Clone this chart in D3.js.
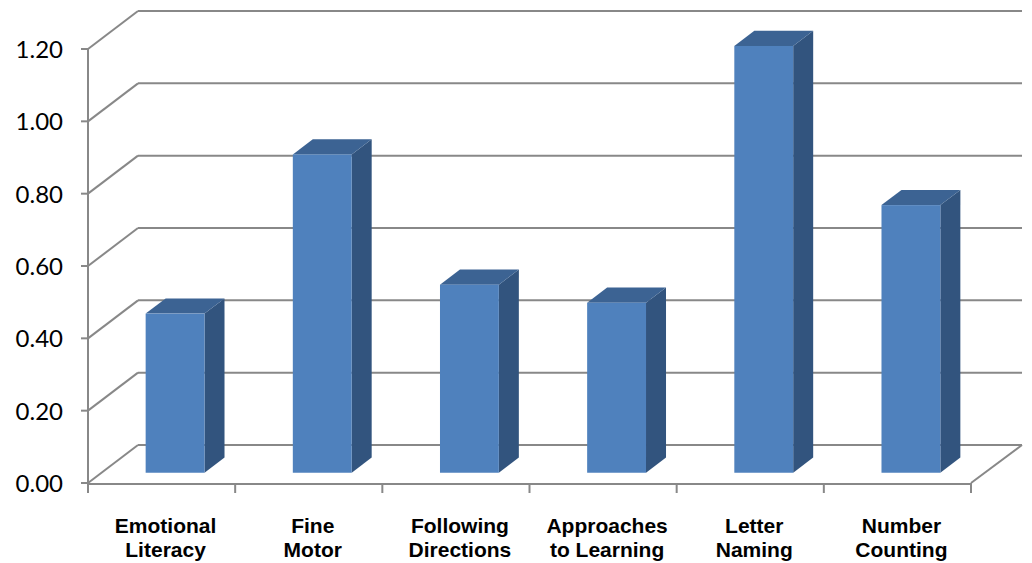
<!DOCTYPE html>
<html>
<head>
<meta charset="utf-8">
<script src="https://cdn.jsdelivr.net/npm/d3@7"></script>
<style>
  body { margin: 0; background: #fff; }
  svg { display: block; }
</style>
</head>
<body>
<svg id="chart" width="1032" height="563"></svg>
<script>
const categories = [
  ["Emotional", "Literacy"],
  ["Fine", "Motor"],
  ["Following", "Directions"],
  ["Approaches", "to Learning"],
  ["Letter", "Naming"],
  ["Number", "Counting"]
];
const values = [0.44, 0.88, 0.52, 0.47, 1.18, 0.74];
const yTicks = [0, 0.2, 0.4, 0.6, 0.8, 1.0, 1.2];

const svg = d3.select("#chart");
const gridColor = "#888888";

// front plane scales + oblique depth vector
const x = d3.scaleBand().domain(d3.range(categories.length)).range([88, 971]);
const y = d3.scaleLinear().domain([0, 1.2]).range([483, 49]);
const depth = { dx: 50, dy: -38 };
const barFront = 0.27, barBack = 0.67, barWidth = 0.4;

const grid = svg.append("g").attr("fill", "none").attr("stroke", gridColor).attr("stroke-width", 2);

// back wall gridlines + left wall diagonals
yTicks.forEach(v => {
  grid.append("line")
    .attr("x1", x.range()[0] + depth.dx).attr("y1", y(v) + depth.dy)
    .attr("x2", x.range()[1] + depth.dx + 1).attr("y2", y(v) + depth.dy);
  grid.append("line")
    .attr("x1", x.range()[0]).attr("y1", y(v))
    .attr("x2", x.range()[0] + depth.dx).attr("y2", y(v) + depth.dy);
});

// floor right edge
grid.append("line")
  .attr("x1", x.range()[1]).attr("y1", y(0))
  .attr("x2", x.range()[1] + depth.dx + 1).attr("y2", y(0) + depth.dy);

// y axis
grid.append("line")
  .attr("x1", x.range()[0]).attr("y1", y(1.2))
  .attr("x2", x.range()[0]).attr("y2", y(0));
yTicks.forEach(v => {
  grid.append("line")
    .attr("x1", x.range()[0] - 7).attr("y1", y(v))
    .attr("x2", x.range()[0]).attr("y2", y(v));
});

// x axis
grid.append("line")
  .attr("x1", x.range()[0]).attr("y1", y(0) + 1)
  .attr("x2", x.range()[1]).attr("y2", y(0) + 1);
d3.range(categories.length + 1).forEach(i => {
  const xx = x.range()[0] + i * x.step();
  grid.append("line")
    .attr("x1", xx).attr("y1", y(0))
    .attr("x2", xx).attr("y2", y(0) + 10);
});

// y tick labels
svg.append("g")
  .selectAll("text")
  .data(yTicks)
  .join("text")
  .attr("x", 63)
  .attr("y", d => y(d) + 9)
  .attr("text-anchor", "end")
  .attr("font-family", "Lato, 'Open Sans', sans-serif")
  .attr("font-size", 24)
  .attr("fill", "#000")
  .text(d => d3.format(".2f")(d));

// bars
const bars = svg.append("g");
values.forEach((v, i) => {
  const cx = x(i) + x.bandwidth() / 2;
  const w = x.bandwidth() * barWidth;
  const fx = cx - w / 2 + depth.dx * barFront;
  const fy = y(0) + depth.dy * barFront;
  const bx = depth.dx * (barBack - barFront);
  const by = depth.dy * (barBack - barFront);
  const h = y(0) - y(v);
  const top = fy - h;

  // side
  bars.append("path")
    .attr("d", `M${fx + w},${fy} L${fx + w + bx},${fy + by} L${fx + w + bx},${top + by} L${fx + w},${top} Z`)
    .attr("fill", "#32547e");
  // top
  bars.append("path")
    .attr("d", `M${fx},${top} L${fx + bx},${top + by} L${fx + w + bx},${top + by} L${fx + w},${top} Z`)
    .attr("fill", "#3c6393");
  // front
  bars.append("rect")
    .attr("x", fx).attr("y", top)
    .attr("width", w).attr("height", h)
    .attr("fill", "#4f81bd");
});

// category labels
const labels = svg.append("g")
  .attr("font-family", "'Liberation Sans', Arial, sans-serif")
  .attr("font-weight", "bold")
  .attr("font-size", 21)
  .attr("text-anchor", "middle")
  .attr("fill", "#000");

categories.forEach((lines, i) => {
  const lx = x(i) + x.bandwidth() / 2 + 4;
  const t = labels.append("text").attr("x", lx);
  lines.forEach((line, j) => {
    t.append("tspan")
      .attr("x", lx)
      .attr("y", 533 + j * 24)
      .text(line);
  });
});
</script>
</body>
</html>
